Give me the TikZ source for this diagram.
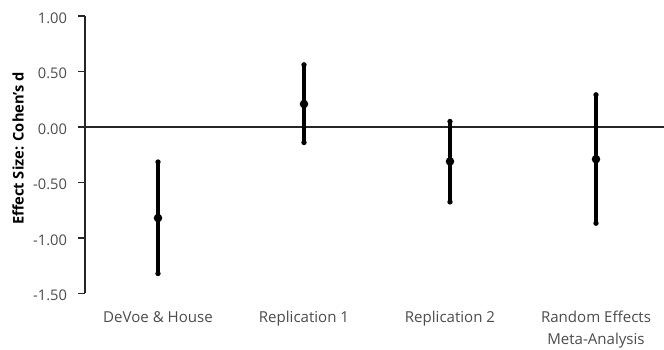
\documentclass[tikz,border=0pt]{standalone}
\usepackage{fontspec}
\setmainfont{Open Sans}
\usetikzlibrary{positioning}

\begin{document}
\begin{tikzpicture}[x=109.5pt, y=83.25pt]
        % Define styles
        \tikzstyle{estimate} = [circle, fill=black, inner sep=0pt, minimum size=6.4pt]
        \tikzstyle{limit} = [circle, fill=black, inner sep=0pt, minimum size=4pt]
        \tikzstyle{bar} = [line width=2.4pt, black]
        \tikzstyle{axis} = [line width=0.8pt, black!85]
        \tikzstyle{ticklabel} = [anchor=east, text=black!70, font=\fontsize{11}{13}\selectfont]
        \tikzstyle{catlabel} = [anchor=base, align=center, text=black!70, font=\fontsize{11.3}{16}\selectfont]

        \useasboundingbox (-0.5822,-2.009) rectangle (3.9658,1.1441);

        % Axes
        \coordinate (ytop) at (0,1);
        \coordinate (ybot) at (0,-1.5);
        \coordinate (zero) at (0,0);
        \coordinate (zeroend) at (3.9658,0);
        \draw [axis] (ytop) -- (ybot);
        \draw [axis] (zero) -- (zeroend);
        \foreach \v/\t in {1/1.00, 0.5/0.50, 0/0.00, -0.5/-0.50, -1/-1.00, -1.5/-1.50} {
            \draw [axis] (0,\v) -- ++(-5.2pt,0);
            \node [ticklabel] (tick\t) at ([xshift=-10pt, yshift=-1.5pt]0,\v) {\t};
        }
        \node [rotate=90, font=\fontsize{11}{13}\selectfont\bfseries] (ylabel) at (-0.459,-0.194) {Effect Size: Cohen's d};

        % Nodes
        \node [limit] (dvhigh) at (0.5,-0.315) {};
        \node [limit] (dvlow) at (0.5,-1.32) {};
        \node [limit] (r1high) at (1.5,0.56) {};
        \node [limit] (r1low) at (1.5,-0.14) {};
        \node [limit] (r2high) at (2.5,0.05) {};
        \node [limit] (r2low) at (2.5,-0.675) {};
        \node [limit] (mahigh) at (3.5,0.29) {};
        \node [limit] (malow) at (3.5,-0.867) {};

        % Bars
        \draw [bar] (dvhigh.center) -- (dvlow.center);
        \draw [bar] (r1high.center) -- (r1low.center);
        \draw [bar] (r2high.center) -- (r2low.center);
        \draw [bar] (mahigh.center) -- (malow.center);

        \node [estimate] (dvmean) at (0.5,-0.82) {};
        \node [estimate] (r1mean) at (1.5,0.207) {};
        \node [estimate] (r2mean) at (2.5,-0.31) {};
        \node [estimate] (mamean) at (3.5,-0.29) {};

        % Labels
        \node [catlabel] (dvlabel) at (0.5,-1.763) {DeVoe \& House};
        \node [catlabel] (r1label) at (1.5,-1.763) {Replication 1};
        \node [catlabel] (r2label) at (2.5,-1.763) {Replication 2};
        \node [catlabel] (malabel) at (3.5,-1.957) {Random Effects\\Meta-Analysis};
    \end{tikzpicture}
\end{document}
